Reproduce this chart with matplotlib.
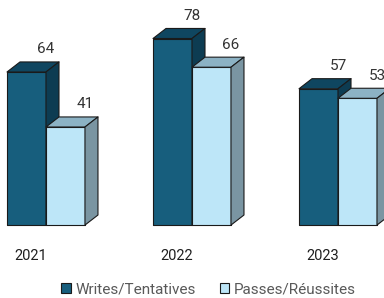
import matplotlib
matplotlib.use("Agg")
import matplotlib.pyplot as plt
from matplotlib.patches import Polygon, Patch

# data
years = ["2021", "2022", "2023"]
writes = [64, 78, 57]
passes = [41, 66, 53]
series_names = ["Writes/Tentatives", "Passes/Réussites"]

# colours: front, top, side
dark = ["#175E7D", "#0F4660", "#0D3C52"]
light = ["#BDE6F8", "#8CB2C4", "#7A95A2"]

plt.rcParams['font.family'] = ['Roboto', 'DejaVu Sans']

fig = plt.figure(figsize=(3.84, 2.98), dpi=100)
ax = fig.add_axes([0, 0, 1, 1])
ax.set_xlim(-0.048, 2.582)
ax.set_ylim(-30.5, 94.1)
ax.axis('off')

w = 0.267      # bar width (category units)
dx = 0.089     # depth offset in x
dy = 4.2       # depth offset in y


def bar3d(x0, h, cols):
    x1 = x0 + w
    front = [(x0, 0), (x1, 0), (x1, h), (x0, h)]
    top = [(x0, h), (x1, h), (x1 + dx, h + dy), (x0 + dx, h + dy)]
    side = [(x1, 0), (x1 + dx, dy), (x1 + dx, h + dy), (x1, h)]
    for pts, c in zip([front, top, side], cols):
        ax.add_patch(Polygon(pts, closed=True, facecolor=c,
                             edgecolor='#1a1a1a', linewidth=0.8,
                             joinstyle='round'))
    ax.annotate(str(h), (x1, h + dy), xytext=(0, 4), textcoords='offset points',
                ha='center', va='bottom', fontsize=11, color='#333333')


for i in range(len(years)):
    bar3d(i, writes[i], dark)
    bar3d(i + w, passes[i], light)
    ax.text(i + 0.16, -13, years[i], ha='center', va='center',
            fontsize=10.5, color='#1f1f1f')

handles = [Patch(facecolor=dark[0], edgecolor='#1a1a1a', linewidth=0.8),
           Patch(facecolor=light[0], edgecolor='#1a1a1a', linewidth=0.8)]
leg = fig.legend(handles, series_names, ncol=2, loc='center',
                 bbox_to_anchor=(0.543, 0.03), frameon=False,
                 fontsize=11, handlelength=0.6, handleheight=0.6,
                 handletextpad=0.3, columnspacing=1.6, borderpad=0)
for t in leg.get_texts():
    t.set_color('#595959')

fig.savefig("out.png", dpi=100)
